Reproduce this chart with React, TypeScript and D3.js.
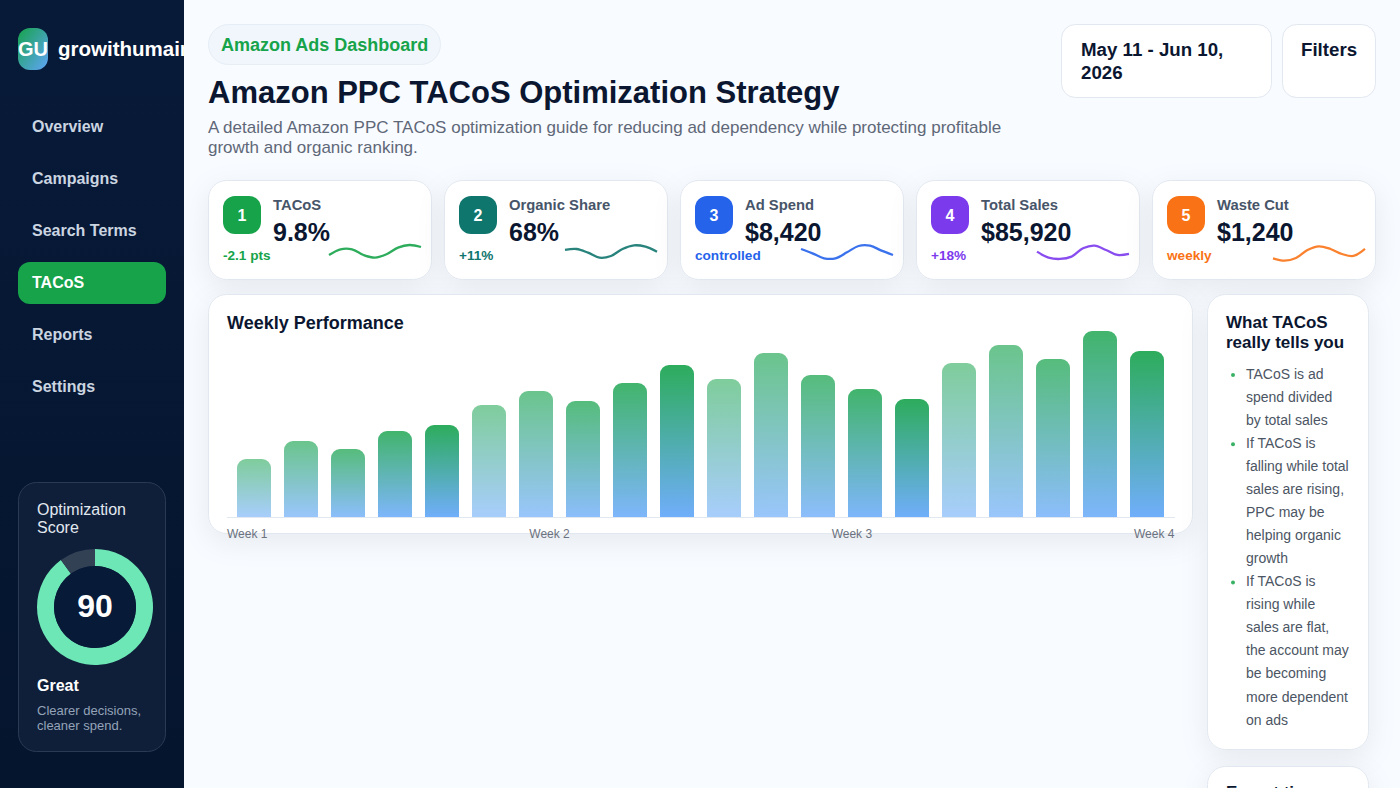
import React from "react";
import * as d3 from "d3";

const FONT = "'Liberation Sans', Arial, sans-serif";

// sidebar
const navItems = ["Overview", "Campaigns", "Search Terms", "TACoS", "Reports", "Settings"];
const activeNav = "TACoS";
const score = [90, 10];

// kpi cards
const kpiLabels = ["TACoS", "Organic Share", "Ad Spend", "Total Sales", "Waste Cut"];
const kpiValues = ["9.8%", "68%", "$8,420", "$85,920", "$1,240"];
const kpiNotes = ["-2.1 pts", "+11%", "controlled", "+18%", "weekly"];
const kpiColors = ["#16a34a", "#0f766e", "#2563eb", "#7c3aed", "#f97316"];
const sparkTacos = [40, 57, 57, 40, 32, 42, 62, 70, 64];
const sparkOrganic = [55, 58, 47, 32, 37, 58, 69, 65, 50];
const sparkSpend = [58, 45, 30, 30, 48, 67, 68, 53, 40];
const sparkSales = [50, 32, 28, 35, 60, 68, 55, 40, 43];
const sparkWaste = [30, 23, 31, 55, 66, 58, 43, 37, 58];
const sparks = [sparkTacos, sparkOrganic, sparkSpend, sparkSales, sparkWaste];

// weekly performance
const barValues = [29, 38, 34, 43, 46, 56, 63, 58, 67, 76, 69, 82, 71, 64, 59, 77, 86, 79, 93, 83];
const weekLabels = ["Week 1", "Week 2", "Week 3", "Week 4"];

// side panel
const tips = [
  ["TACoS is ad", "spend divided", "by total sales"],
  ["If TACoS is", "falling while total", "sales are rising,", "PPC may be", "helping organic", "growth"],
  ["If TACoS is", "rising while", "sales are flat,", "the account may", "be becoming", "more dependent", "on ads"],
];

const INK = "#0b1630";

const x = d3.scaleBand<number>()
  .domain(d3.range(barValues.length))
  .range([237, 1164])
  .paddingInner(13 / 47);
const y = d3.scaleLinear().domain([0, 100]).range([517, 317]);
const weekX = d3.scalePoint<string>().domain(weekLabels).range([227, 1134]);
const sparkY = d3.scaleLinear().domain([0, 100]).range([268.3, 235]);

const barPath = (left: number, top: number, w: number, bottom: number, r = 9) => {
  const p = d3.path();
  p.moveTo(left, bottom);
  p.lineTo(left, top + r);
  p.arcTo(left, top, left + r, top, r);
  p.lineTo(left + w - r, top);
  p.arcTo(left + w, top, left + w, top + r, r);
  p.lineTo(left + w, bottom);
  p.closePath();
  return p.toString();
};

const Card = ({ x, y, w, h, r = 18 }: { x: number; y: number; w: number; h: number; r?: number }) => (
  <rect x={x + 0.5} y={y + 0.5} width={w - 1} height={h - 1} rx={r} fill="#ffffff" stroke="#e2e8f0" filter="url(#cardShadow)" />
);

export default function App() {
  const pie = d3.pie<number>().sort(null)(score);
  const arc = d3.arc<d3.PieArcDatum<number>>().innerRadius(41).outerRadius(58);
  let tipLine = 0;

  return (
    <>
      <style>{`body{margin:0;background:#f8fbff}`}</style>
      <svg width={1400} height={788} style={{ display: "block", position: "fixed", left: 0, top: 0 }} fontFamily={FONT}>
        <defs>
          <filter id="cardShadow" x="-20%" y="-30%" width="140%" height="170%">
            <feDropShadow dx="0" dy="8" stdDeviation="14" floodColor="#0f172a" floodOpacity="0.07" />
          </filter>
          <linearGradient id="barFill" x1="0" y1="0" x2="0" y2="1">
            <stop offset="0" stopColor="#16a34a" />
            <stop offset="1" stopColor="#60a5fa" />
          </linearGradient>
          <linearGradient id="logoFill" x1="0" y1="0" x2="1" y2="1">
            <stop offset="0" stopColor="#16a34a" />
            <stop offset="1" stopColor="#60a5fa" />
          </linearGradient>
          <linearGradient id="sideFill" x1="0" y1="0" x2="0" y2="1">
            <stop offset="0" stopColor="#071a38" />
            <stop offset="1" stopColor="#05152e" />
          </linearGradient>
          <clipPath id="sideClip">
            <rect x={0} y={0} width={184} height={788} />
          </clipPath>
        </defs>

        <rect width={1400} height={788} fill="#f8fbff" />

        {/* sidebar */}
        <g clipPath="url(#sideClip)">
          <rect width={184} height={788} fill="url(#sideFill)" />
          <rect x={18} y={28} width={30} height={42} rx={12} fill="url(#logoFill)" />
          <text x={33} y={56} textAnchor="middle" fontSize={20} fontWeight={700} fill="#ffffff">GU</text>
          <text x={58} y={56} fontSize={20.5} fontWeight={700} fill="#ffffff">growithumain</text>
          <rect x={18} y={262} width={148} height={42} rx={12} fill="#16a34a" />
          {navItems.map((item, i) => (
            <text key={item} x={32} y={132 + i * 52} fontSize={16} fontWeight={700} fill={item === activeNav ? "#ffffff" : "#cbd5e1"}>{item}</text>
          ))}
          <rect x={18.5} y={482.5} width={147} height={269} rx={18} fill="#0f1f3a" stroke="#2a3a55" />
          <text x={37} y={515} fontSize={16} fill="#e2e8f0">Optimization</text>
          <text x={37} y={533} fontSize={16} fill="#e2e8f0">Score</text>
          <g transform="translate(95,607)">
            {pie.map((d, i) => (
              <path key={i} d={arc(d) || ""} fill={i === 0 ? "#6ee7b7" : "#334155"} />
            ))}
            <circle r={41} fill="#071a38" />
            <text y={10} textAnchor="middle" fontSize={32} fontWeight={700} fill="#ffffff">{score[0]}</text>
          </g>
          <text x={37} y={691} fontSize={16} fontWeight={700} fill="#ffffff">Great</text>
          <text x={37} y={715} fontSize={13} fill="#94a3b8">Clearer decisions,</text>
          <text x={37} y={730} fontSize={13} fill="#94a3b8">cleaner spend.</text>
        </g>

        {/* header */}
        <rect x={208.5} y={24.5} width={232} height={40} rx={20} fill="#f1f6fc" stroke="#e6edf5" />
        <text x={221} y={51} fontSize={18} fontWeight={700} fill="#16a34a">Amazon Ads Dashboard</text>
        <text x={208} y={103} fontSize={31} fontWeight={700} fill={INK}>Amazon PPC TACoS Optimization Strategy</text>
        <text x={208} y={133} fontSize={17} fill="#5f6878">A detailed Amazon PPC TACoS optimization guide for reducing ad dependency while protecting profitable</text>
        <text x={208} y={153} fontSize={17} fill="#5f6878">growth and organic ranking.</text>
        <rect x={1061.5} y={24.5} width={210} height={73} rx={14} fill="#ffffff" stroke="#e2e8f0" />
        <text x={1081} y={56} fontSize={18.7} fontWeight={700} fill={INK}>May 11 - Jun 10,</text>
        <text x={1081} y={79} fontSize={18.7} fontWeight={700} fill={INK}>2026</text>
        <rect x={1282.5} y={24.5} width={93} height={73} rx={14} fill="#ffffff" stroke="#e2e8f0" />
        <text x={1301} y={56} fontSize={18.7} fontWeight={700} fill={INK}>Filters</text>

        {/* kpi cards */}
        {kpiLabels.map((label, i) => {
          const cx = 208 + i * 236;
          const sparkX = d3.scaleLinear().domain([0, sparks[i].length - 1]).range([cx + 121, cx + 213]);
          const line = d3.line<number>()
            .x((_, j) => sparkX(j))
            .y((d) => sparkY(d))
            .curve(d3.curveCatmullRom);
          return (
            <g key={label}>
              <Card x={cx} y={180} w={224} h={100} />
              <rect x={cx + 15} y={196} width={38} height={38} rx={12} fill={kpiColors[i]} />
              <text x={cx + 34} y={221} textAnchor="middle" fontSize={16} fontWeight={700} fill="#ffffff">{i + 1}</text>
              <text x={cx + 65} y={210} fontSize={14.8} fontWeight={700} fill="#475569">{label}</text>
              <text x={cx + 65} y={241} fontSize={25} fontWeight={700} fill={INK}>{kpiValues[i]}</text>
              <text x={cx + 15} y={260} fontSize={13.6} fontWeight={700} fill={kpiColors[i]}>{kpiNotes[i]}</text>
              <path d={line(sparks[i]) || ""} fill="none" stroke={kpiColors[i]} strokeWidth={2.3} strokeOpacity={0.9} />
            </g>
          );
        })}

        {/* weekly performance */}
        <Card x={208} y={294} w={985} h={240} />
        <text x={227} y={329} fontSize={18} fontWeight={700} fill={INK}>Weekly Performance</text>
        <line x1={227} x2={1175} y1={517.5} y2={517.5} stroke="#e2e8f0" />
        {barValues.map((v, i) => (
          <path
            key={i}
            d={barPath(x(i) || 0, y(v), x.bandwidth(), y(0))}
            fill="url(#barFill)"
            opacity={0.55 + (i % 5) * 0.0875}
          />
        ))}
        {weekLabels.map((w) => (
          <text key={w} x={weekX(w)} y={538} fontSize={12} fill="#6b7280">{w}</text>
        ))}

        {/* side panel */}
        <Card x={1207} y={294} w={162} h={456} />
        <text x={1226} y={328} fontSize={17} fontWeight={700} fill={INK}>What TACoS</text>
        <text x={1226} y={348} fontSize={17} fontWeight={700} fill={INK}>really tells you</text>
        {tips.map((tip, t) => (
          <g key={t}>
            <circle cx={1233} cy={375 + tipLine * 23.05} r={2} fill="#16a34a" opacity={0.85} />
            {tip.map((l) => {
              const row = tipLine++;
              return (
                <text key={l} x={1246} y={378.8 + row * 23.05} fontSize={14} fill="#4b5563">{l}</text>
              );
            })}
          </g>
        ))}
        <Card x={1207} y={766} w={162} h={120} />
        <text x={1226} y={798} fontSize={17} fontWeight={700} fill={INK}>Expert tip</text>
      </svg>
    </>
  );
}
